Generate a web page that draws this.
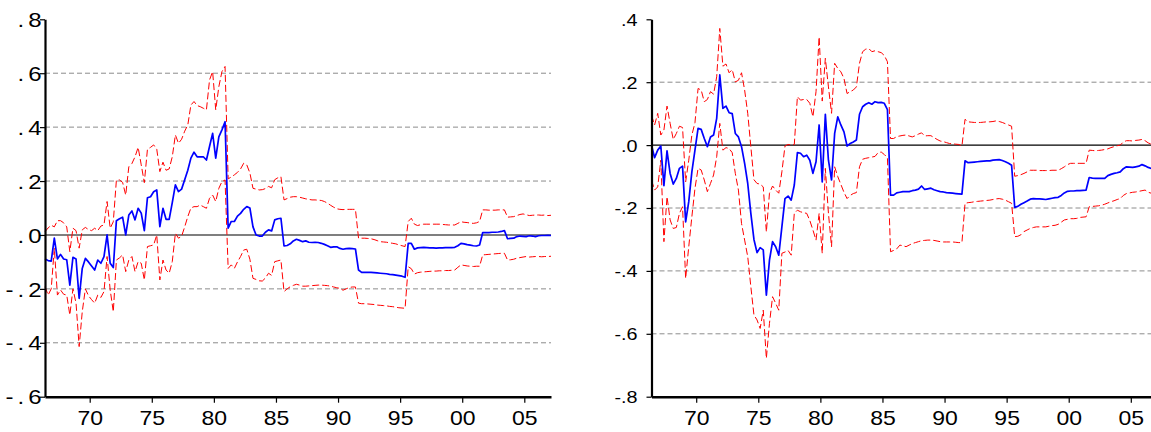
<!DOCTYPE html>
<html>
<head>
<meta charset="utf-8">
<script src="https://cdn.jsdelivr.net/npm/d3@7"></script>
<style>
  body { margin: 0; background: #fff; }
  text { font-family: "Liberation Sans", Arial, Helvetica, sans-serif; fill: #000; }
</style>
</head>
<body>
<script>
// quarterly observations, the first one sits at 1966.4 on the time axis
const firstObs = 1966.4;
const perYear = 4;

const yearTicks = [1970, 1975, 1980, 1985, 1990, 1995, 2000, 2005];
const yearLabels = ["70", "75", "80", "85", "90", "95", "00", "05"];

const leftTicks = [-0.6, -0.4, -0.2, 0, 0.2, 0.4, 0.6, 0.8];
const leftLabels = ["-.6", "-.4", "-.2", ".0", ".2", ".4", ".6", ".8"];
const rightTicks = [-0.8, -0.6, -0.4, -0.2, 0, 0.2, 0.4];
const rightLabels = ["-.8", "-.6", "-.4", "-.2", ".0", ".2", ".4"];

// left panel: response (blue) and the two bands (red)
const leftMid = [
  -0.089, -0.095, -0.097, -0.012, -0.089, -0.072, -0.089, -0.092, -0.186, -0.083,
  -0.089, -0.235, -0.124, -0.087, -0.100, -0.115, -0.130, -0.093, -0.105, -0.080,
  0.000, -0.105, -0.121, 0.053, 0.060, 0.066, 0.000, 0.074, 0.089, 0.056,
  0.099, 0.081, 0.016, 0.138, 0.142, 0.160, 0.167, 0.031, 0.099, 0.058,
  0.058, 0.120, 0.186, 0.161, 0.170, 0.205, 0.240, 0.285, 0.307, 0.290,
  0.290, 0.290, 0.278, 0.328, 0.377, 0.285, 0.364, 0.390, 0.420, 0.025,
  0.050, 0.050, 0.070, 0.080, 0.095, 0.105, 0.100, 0.030, 0.000, -0.004,
  -0.004, 0.010, 0.019, 0.015, 0.056, 0.060, 0.062, -0.041, -0.039, -0.033,
  -0.022, -0.016, -0.020, -0.025, -0.022, -0.027, -0.028, -0.027, -0.028, -0.031,
  -0.035, -0.040, -0.046, -0.044, -0.044, -0.050, -0.053, -0.051, -0.050, -0.051,
  -0.052, -0.130, -0.139, -0.139, -0.139, -0.139, -0.140, -0.141, -0.142, -0.143,
  -0.144, -0.146, -0.147, -0.149, -0.151, -0.153, -0.157, -0.031, -0.031, -0.053,
  -0.048, -0.047, -0.046, -0.047, -0.048, -0.048, -0.049, -0.048, -0.048, -0.047,
  -0.047, -0.047, -0.046, -0.040, -0.031, -0.033, -0.036, -0.038, -0.040, -0.041,
  -0.037, 0.009, 0.009, 0.009, 0.010, 0.010, 0.011, 0.013, 0.016, -0.014,
  -0.013, -0.012, -0.006, -0.004, -0.005, -0.006, -0.003, -0.004, -0.006, -0.003,
  -0.002, -0.002, -0.001, -0.002
];
const leftUpper = [
  0.012, 0.026, 0.036, 0.030, 0.053, 0.053, 0.045, 0.030, -0.062, 0.025,
  0.016, -0.049, 0.019, 0.028, 0.020, 0.016, 0.025, 0.016, 0.033, 0.037,
  0.124, 0.025, 0.049, 0.204, 0.204, 0.195, 0.148, 0.253, 0.265, 0.290,
  0.325, 0.260, 0.194, 0.318, 0.325, 0.334, 0.318, 0.235, 0.270, 0.240,
  0.245, 0.290, 0.371, 0.340, 0.355, 0.385, 0.408, 0.482, 0.495, 0.480,
  0.476, 0.470, 0.464, 0.575, 0.606, 0.464, 0.550, 0.606, 0.625, 0.208,
  0.215, 0.223, 0.232, 0.245, 0.266, 0.260, 0.230, 0.173, 0.170, 0.167,
  0.168, 0.172, 0.180, 0.175, 0.205, 0.212, 0.216, 0.130, 0.135, 0.140,
  0.142, 0.142, 0.140, 0.137, 0.134, 0.132, 0.130, 0.130, 0.129, 0.128,
  0.124, 0.118, 0.110, 0.103, 0.097, 0.095, 0.094, 0.095, 0.095, 0.095,
  0.095, -0.012, -0.012, -0.012, -0.013, -0.014, -0.017, -0.021, -0.025, -0.026,
  -0.027, -0.029, -0.031, -0.033, -0.037, -0.040, -0.043, 0.050, 0.062, 0.040,
  0.035, 0.038, 0.040, 0.040, 0.040, 0.040, 0.040, 0.040, 0.039, 0.038,
  0.037, 0.037, 0.037, 0.043, 0.049, 0.047, 0.046, 0.044, 0.043, 0.045,
  0.050, 0.093, 0.093, 0.092, 0.092, 0.092, 0.093, 0.093, 0.093, 0.066,
  0.067, 0.068, 0.072, 0.076, 0.078, 0.075, 0.072, 0.073, 0.074, 0.074,
  0.073, 0.074, 0.072, 0.073
];
const leftLower = [
  -0.192, -0.223, -0.200, -0.049, -0.223, -0.204, -0.220, -0.223, -0.297, -0.200,
  -0.253, -0.414, -0.285, -0.200, -0.225, -0.240, -0.253, -0.223, -0.232, -0.210,
  -0.080, -0.204, -0.285, -0.093, -0.085, -0.074, -0.136, -0.093, -0.080, -0.136,
  -0.099, -0.105, -0.167, -0.043, -0.040, -0.037, 0.000, -0.167, -0.093, -0.130,
  -0.142, -0.099, 0.006, -0.012, -0.005, 0.030, 0.068, 0.100, 0.105, 0.105,
  0.111, 0.105, 0.099, 0.136, 0.148, 0.124, 0.173, 0.198, 0.204, -0.124,
  -0.111, -0.124, -0.100, -0.080, -0.056, -0.053, -0.090, -0.161, -0.165, -0.170,
  -0.171, -0.160, -0.142, -0.150, -0.099, -0.096, -0.093, -0.210, -0.200, -0.192,
  -0.187, -0.183, -0.186, -0.190, -0.190, -0.189, -0.188, -0.187, -0.186, -0.186,
  -0.187, -0.188, -0.190, -0.193, -0.196, -0.198, -0.205, -0.200, -0.195, -0.193,
  -0.193, -0.253, -0.255, -0.255, -0.256, -0.257, -0.258, -0.260, -0.261, -0.262,
  -0.263, -0.265, -0.266, -0.268, -0.270, -0.271, -0.272, -0.118, -0.125, -0.145,
  -0.140, -0.138, -0.137, -0.136, -0.135, -0.134, -0.134, -0.133, -0.133, -0.132,
  -0.132, -0.131, -0.130, -0.120, -0.111, -0.113, -0.115, -0.116, -0.117, -0.116,
  -0.116, -0.074, -0.073, -0.072, -0.071, -0.070, -0.069, -0.068, -0.068, -0.093,
  -0.092, -0.090, -0.086, -0.084, -0.082, -0.080, -0.082, -0.081, -0.080, -0.080,
  -0.081, -0.080, -0.080, -0.079
];

// right panel
const rightMid = [
  0.000, -0.040, -0.016, -0.003, -0.129, -0.018, -0.090, -0.124, -0.106, -0.074,
  -0.067, -0.244, -0.180, -0.085, -0.016, 0.053, 0.050, 0.021, -0.005, 0.026,
  0.032, 0.085, 0.223, 0.117, 0.124, 0.103, 0.100, 0.037, 0.026, -0.005,
  -0.058, -0.122, -0.217, -0.300, -0.342, -0.326, -0.333, -0.477, -0.366, -0.307,
  -0.323, -0.350, -0.260, -0.170, -0.162, -0.175, -0.127, -0.024, -0.026, -0.037,
  -0.032, -0.048, -0.090, -0.053, 0.064, -0.117, 0.098, -0.048, -0.111, 0.037,
  0.090, 0.064, 0.042, -0.003, 0.005, 0.010, 0.016, 0.098, 0.122, 0.130,
  0.135, 0.130, 0.138, 0.135, 0.136, 0.133, 0.113, -0.159, -0.159, -0.152,
  -0.150, -0.148, -0.148, -0.148, -0.145, -0.143, -0.140, -0.130, -0.141, -0.139,
  -0.137, -0.142, -0.145, -0.148, -0.149, -0.151, -0.152, -0.153, -0.154, -0.155,
  -0.156, -0.050, -0.056, -0.055, -0.054, -0.053, -0.052, -0.051, -0.050, -0.050,
  -0.048, -0.047, -0.046, -0.049, -0.053, -0.058, -0.064, -0.198, -0.195, -0.188,
  -0.183, -0.178, -0.172, -0.170, -0.171, -0.171, -0.172, -0.173, -0.171, -0.169,
  -0.167, -0.166, -0.160, -0.152, -0.147, -0.146, -0.146, -0.145, -0.145, -0.144,
  -0.143, -0.103, -0.105, -0.106, -0.106, -0.106, -0.106, -0.097, -0.093, -0.090,
  -0.088, -0.085, -0.075, -0.069, -0.070, -0.071, -0.069, -0.067, -0.062, -0.066,
  -0.071, -0.074, -0.075, -0.076
];
const rightUpper = [
  0.095, 0.064, 0.101, 0.032, 0.048, 0.124, 0.069, 0.018, 0.037, 0.060,
  0.056, -0.117, -0.048, 0.032, 0.071, 0.180, 0.175, 0.138, 0.145, 0.170,
  0.162, 0.217, 0.371, 0.251, 0.258, 0.230, 0.240, 0.201, 0.206, 0.230,
  0.175, 0.101, -0.005, -0.110, -0.122, -0.124, -0.133, -0.276, -0.153, -0.130,
  -0.143, -0.153, -0.085, -0.003, 0.002, 0.000, 0.002, 0.154, 0.143, 0.145,
  0.145, 0.133, 0.090, 0.170, 0.344, 0.140, 0.276, 0.185, 0.101, 0.260,
  0.244, 0.233, 0.212, 0.164, 0.170, 0.175, 0.185, 0.260, 0.297, 0.305,
  0.307, 0.297, 0.300, 0.297, 0.294, 0.285, 0.265, 0.021, 0.021, 0.027,
  0.029, 0.031, 0.032, 0.029, 0.026, 0.030, 0.035, 0.039, 0.029, 0.030,
  0.030, 0.024, 0.018, 0.013, 0.011, 0.008, 0.005, 0.004, 0.003, 0.002,
  -0.003, 0.082, 0.074, 0.073, 0.072, 0.072, 0.072, 0.073, 0.074, 0.074,
  0.075, 0.077, 0.075, 0.072, 0.068, 0.064, 0.060, -0.099, -0.097, -0.094,
  -0.090, -0.085, -0.080, -0.080, -0.080, -0.081, -0.081, -0.081, -0.081, -0.080,
  -0.080, -0.080, -0.075, -0.069, -0.062, -0.058, -0.058, -0.058, -0.058, -0.058,
  -0.058, -0.016, -0.017, -0.018, -0.017, -0.016, -0.014, -0.012, -0.008, -0.005,
  -0.002, 0.000, 0.010, 0.014, 0.014, 0.013, 0.015, 0.016, 0.018, 0.014,
  0.007, 0.003, 0.002, 0.001
];
const rightLower = [
  -0.111, -0.143, -0.133, -0.048, -0.307, -0.164, -0.238, -0.265, -0.262, -0.217,
  -0.196, -0.424, -0.323, -0.228, -0.138, -0.074, -0.079, -0.111, -0.148, -0.122,
  -0.095, -0.037, 0.069, -0.016, -0.008, -0.011, -0.024, -0.090, -0.143, -0.249,
  -0.302, -0.355, -0.450, -0.540, -0.556, -0.583, -0.525, -0.678, -0.567, -0.482,
  -0.503, -0.525, -0.344, -0.340, -0.335, -0.350, -0.217, -0.207, -0.212, -0.215,
  -0.217, -0.240, -0.270, -0.302, -0.217, -0.344, -0.074, -0.217, -0.323, -0.069,
  -0.100, -0.125, -0.150, -0.170, -0.160, -0.154, -0.151, -0.069, -0.045, -0.042,
  -0.040, -0.038, -0.036, -0.024, -0.022, -0.030, -0.040, -0.339, -0.335, -0.330,
  -0.318, -0.320, -0.323, -0.318, -0.313, -0.310, -0.307, -0.304, -0.303, -0.302,
  -0.302, -0.303, -0.305, -0.307, -0.308, -0.308, -0.308, -0.308, -0.309, -0.310,
  -0.310, -0.185, -0.183, -0.182, -0.180, -0.179, -0.178, -0.177, -0.176, -0.175,
  -0.173, -0.171, -0.170, -0.172, -0.175, -0.180, -0.185, -0.291, -0.290, -0.285,
  -0.275, -0.270, -0.265, -0.262, -0.260, -0.260, -0.260, -0.260, -0.258, -0.256,
  -0.255, -0.252, -0.245, -0.238, -0.236, -0.234, -0.234, -0.233, -0.230, -0.229,
  -0.228, -0.196, -0.195, -0.194, -0.193, -0.191, -0.188, -0.184, -0.180, -0.177,
  -0.173, -0.170, -0.160, -0.154, -0.152, -0.150, -0.149, -0.147, -0.145, -0.143,
  -0.150, -0.153, -0.154, -0.155
];

const width = 1151;
const height = 432;

let svg = d3
  .select("body")
  .append("svg")
  .attr("width", width)
  .attr("height", height);

let drawPanel = p => {
  let n = p.mid.length;

  let x = d3
    .scaleLinear()
    .domain([firstObs, firstObs + (n - 1) / perYear])
    .range([p.left, p.left + 506]);

  let y = d3
    .scaleLinear()
    .domain([p.ticks[0], p.ticks[p.ticks.length - 1]])
    .range([396.7, 19.3]);

  let g = svg.append("g");

  // dashed grid, skipping top, bottom and zero
  g.selectAll(".grid")
    .data(p.ticks.filter((d, i) => d !== 0 && i > 0 && i < p.ticks.length - 1))
    .enter()
    .append("line")
    .attr("x1", p.left)
    .attr("x2", p.left + 506)
    .attr("y1", d => y(d))
    .attr("y2", d => y(d))
    .attr("stroke", "#8c8c8c")
    .attr("stroke-width", 1)
    .attr("stroke-dasharray", "5,3");

  // zero line
  g.append("line")
    .attr("x1", p.left)
    .attr("x2", p.left + 506)
    .attr("y1", y(0))
    .attr("y2", y(0))
    .attr("stroke", p.zeroColor)
    .attr("stroke-width", p.zeroWidth);

  let line = d3
    .line()
    .x((d, i) => x(firstObs + i / perYear))
    .y(d => y(d));

  [p.upper, p.lower].forEach(s => {
    g.append("path")
      .attr("d", line(s))
      .attr("fill", "none")
      .attr("stroke", "#ff0000")
      .attr("stroke-width", 1)
      .attr("stroke-dasharray", "7,3");
  });

  g.append("path")
    .attr("d", line(p.mid))
    .attr("fill", "none")
    .attr("stroke", "#0000ff")
    .attr("stroke-width", 1.7)
    .attr("stroke-linejoin", "round");

  // y axis
  let yAxis = g
    .append("g")
    .attr("transform", `translate(${p.left},0)`)
    .call(
      d3
        .axisLeft(y)
        .tickValues(p.ticks)
        .tickFormat((d, i) => p.labels[i])
        .tickSize(5)
        .tickSizeOuter(0)
    );
  yAxis.select(".domain").attr("stroke", "#000").attr("stroke-width", 2.2);
  yAxis.selectAll(".tick line").attr("stroke", "#000").attr("stroke-width", 1.2);
  // labels are a little wider than the stock font, so stretch them
  yAxis
    .selectAll("text")
    .attr("font-family", null)
    .attr("font-size", p.labelSize)
    .attr("x", 0)
    .attr("dy", "0.36em")
    .attr("transform", `translate(${p.labelX},0) scale(1.2,1)`)
    .style("letter-spacing", p.spacing + "px");

  // x axis
  let xAxis = g
    .append("g")
    .attr("transform", "translate(0,396.7)")
    .call(
      d3
        .axisBottom(x)
        .tickValues(yearTicks)
        .tickFormat((d, i) => yearLabels[i])
        .tickSize(6)
        .tickSizeOuter(0)
        .tickPadding(8)
    );
  xAxis.select(".domain").attr("stroke", "#000").attr("stroke-width", 2.6);
  xAxis.selectAll(".tick line").attr("stroke", "#000").attr("stroke-width", 1.2);
  xAxis
    .selectAll("text")
    .attr("font-family", null)
    .attr("font-size", 20)
    .attr("transform", "scale(1.15,1)");
};

drawPanel({
  left: 45,
  ticks: leftTicks,
  labels: leftLabels,
  mid: leftMid,
  upper: leftUpper,
  lower: leftLower,
  zeroColor: "#555",
  zeroWidth: 1.6,
  labelSize: 20,
  labelX: 0.5,
  spacing: 3.3
});

drawPanel({
  left: 651.5,
  ticks: rightTicks,
  labels: rightLabels,
  mid: rightMid,
  upper: rightUpper,
  lower: rightLower,
  zeroColor: "#000",
  zeroWidth: 1.2,
  labelSize: 16.5,
  labelX: -14,
  spacing: 0
});
</script>
</body>
</html>
